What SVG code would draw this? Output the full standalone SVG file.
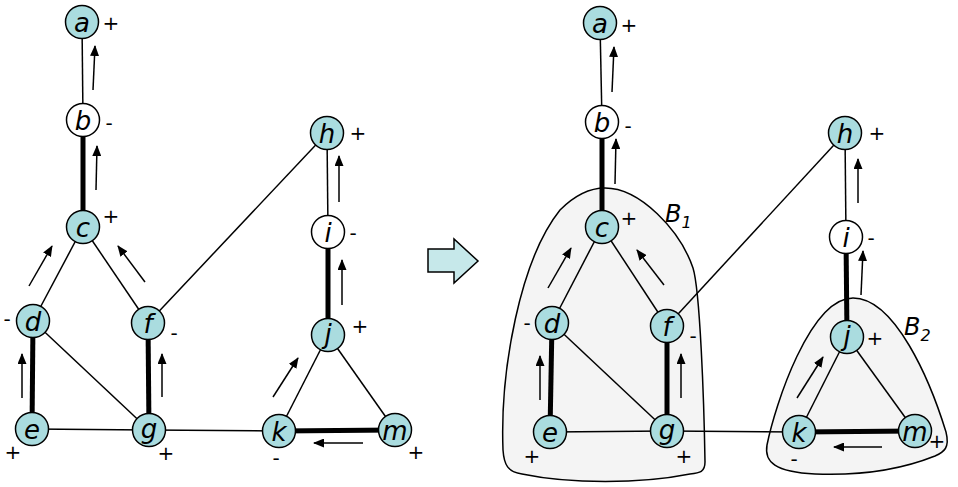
<svg xmlns="http://www.w3.org/2000/svg" width="958" height="487" viewBox="0 0 958 487">
<style>
.bg{fill:#ffffff}
.blob{fill:#f4f4f4;stroke:#000;stroke-width:1.5}
.e{stroke:#000;stroke-width:1.5;fill:none}
.t{stroke:#000;stroke-width:5;fill:none}
.ar{stroke:#000;stroke-width:1.5;fill:none;marker-end:url(#ah)}
.n{fill:#aadcdf;stroke:#000;stroke-width:1.5}
.w{fill:#ffffff;stroke:#000;stroke-width:1.5}
.nl{font-family:"DejaVu Sans",Verdana,sans-serif;font-style:italic;font-size:26px;text-anchor:middle;fill:#000}
.s{font-family:"DejaVu Sans",Verdana,sans-serif;font-size:20px;text-anchor:middle;fill:#000}
.bl{font-family:"DejaVu Sans",Verdana,sans-serif;font-style:italic;font-size:24px;fill:#000}
.sub{font-family:"DejaVu Sans",Verdana,sans-serif;font-size:16px;fill:#000}
</style>
<defs>
<marker id="ah" viewBox="0 0 11 9" refX="10" refY="4.5" markerWidth="11" markerHeight="9" markerUnits="userSpaceOnUse" orient="auto">
<path d="M0,0 L11,4.5 L0,9 Z" fill="#000"/>
</marker>
</defs>
<rect class="bg" x="0" y="0" width="958" height="487"/>

<g id="blobs">
<path id="B1" class="blob" d="M605,188 C640,188 680,230 693,268 C700,290 704,400 705,462 C705,472 700,473 690,474 C640,484 570,484 522,474 C508,472 504,465 503,450 C500,370 520,260 560,210 C575,195 590,188 605,188 Z"/>
<path id="B2" class="blob" d="M853,298 C895,298 930,380 946,432 C950,448 944,452 935,456 C905,468 865,476 815,474 C775,472 764,462 767,445 C775,405 810,298 853,298 Z"/>
</g>

<g id="connectors">
<!-- left graph -->
<line class="e" x1="82" y1="22" x2="83" y2="120"/>
<line class="t" x1="83" y1="120" x2="83" y2="227"/>
<line class="e" x1="83" y1="227" x2="33" y2="321"/>
<line class="e" x1="83" y1="227" x2="148" y2="323"/>
<line class="t" x1="33" y1="321" x2="32" y2="429"/>
<line class="e" x1="33" y1="321" x2="149" y2="430"/>
<line class="t" x1="148" y1="323" x2="149" y2="430"/>
<line class="e" x1="32" y1="429" x2="149" y2="430"/>
<line class="e" x1="149" y1="430" x2="279" y2="431"/>
<line class="e" x1="148" y1="323" x2="327" y2="133"/>
<line class="e" x1="327" y1="133" x2="328" y2="232"/>
<line class="t" x1="328" y1="232" x2="328" y2="335"/>
<line class="e" x1="328" y1="335" x2="279" y2="431"/>
<line class="e" x1="328" y1="335" x2="395" y2="430"/>
<line class="t" x1="279" y1="431" x2="395" y2="430"/>
<!-- right graph -->
<line class="e" x1="600" y1="23" x2="602" y2="122"/>
<line class="t" x1="602" y1="122" x2="602" y2="227"/>
<line class="e" x1="602" y1="227" x2="552" y2="323"/>
<line class="e" x1="602" y1="227" x2="667" y2="326"/>
<line class="t" x1="552" y1="323" x2="550" y2="432"/>
<line class="e" x1="552" y1="323" x2="667" y2="431"/>
<line class="t" x1="667" y1="326" x2="667" y2="431"/>
<line class="e" x1="550" y1="432" x2="667" y2="431"/>
<line class="e" x1="667" y1="431" x2="799" y2="432"/>
<line class="e" x1="667" y1="326" x2="845" y2="133"/>
<line class="e" x1="845" y1="133" x2="846" y2="237"/>
<line class="t" x1="846" y1="237" x2="847" y2="337"/>
<line class="e" x1="847" y1="337" x2="799" y2="432"/>
<line class="e" x1="847" y1="337" x2="915" y2="431"/>
<line class="t" x1="799" y1="432" x2="915" y2="431"/>
</g>

<g id="flow-arrows">
<line class="ar" x1="93" y1="90" x2="95" y2="46"/>
<line class="ar" x1="96" y1="190" x2="97" y2="146"/>
<line class="ar" x1="29" y1="286" x2="52" y2="246"/>
<line class="ar" x1="145" y1="282" x2="118" y2="246"/>
<line class="ar" x1="22" y1="398" x2="22" y2="354"/>
<line class="ar" x1="162" y1="397" x2="162" y2="354"/>
<line class="ar" x1="339" y1="202" x2="339" y2="156"/>
<line class="ar" x1="342" y1="305" x2="342" y2="260"/>
<line class="ar" x1="273" y1="397" x2="298" y2="358"/>
<line class="ar" x1="363" y1="443" x2="314" y2="443"/>

<line class="ar" x1="612" y1="92" x2="614" y2="47"/>
<line class="ar" x1="615" y1="184" x2="616" y2="139"/>
<line class="ar" x1="548" y1="288" x2="571" y2="248"/>
<line class="ar" x1="664" y1="285" x2="637" y2="250"/>
<line class="ar" x1="540" y1="400" x2="540" y2="356"/>
<line class="ar" x1="681" y1="398" x2="681" y2="354"/>
<line class="ar" x1="858" y1="203" x2="858" y2="159"/>
<line class="ar" x1="861" y1="295" x2="863" y2="251"/>
<line class="ar" x1="797" y1="398" x2="823" y2="357"/>
<line class="ar" x1="882" y1="447" x2="834" y2="447"/>
</g>

<g id="big-arrow">
<polygon points="428,249 454,249 454,239 478,261 454,283 454,272 428,272" fill="#c6e8ea" stroke="#000" stroke-width="1.5"/>
</g>

<!-- left nodes -->
<g id="L-a"><circle class="n" cx="82" cy="22" r="16.5"/><text class="nl" x="82" y="32">a</text><text class="s" x="111" y="30">+</text></g>
<g id="L-b"><circle class="w" cx="83" cy="120" r="16.5"/><text class="nl" x="83" y="130">b</text><text class="s" x="109" y="130">-</text></g>
<g id="L-c"><circle class="n" cx="83" cy="227" r="16.5"/><text class="nl" x="83" y="237">c</text><text class="s" x="111" y="223">+</text></g>
<g id="L-d"><circle class="n" cx="33" cy="321" r="16.5"/><text class="nl" x="33" y="331">d</text><text class="s" x="7" y="326">-</text></g>
<g id="L-f"><circle class="n" cx="148" cy="323" r="16.5"/><text class="nl" x="148" y="333">f</text><text class="s" x="174" y="340">-</text></g>
<g id="L-e"><circle class="n" cx="32" cy="429" r="16.5"/><text class="nl" x="32" y="439">e</text><text class="s" x="13" y="459">+</text></g>
<g id="L-g"><circle class="n" cx="149" cy="430" r="16.5"/><text class="nl" x="149" y="438">g</text><text class="s" x="166" y="460">+</text></g>
<g id="L-h"><circle class="n" cx="327" cy="133" r="16.5"/><text class="nl" x="327" y="143">h</text><text class="s" x="358" y="140">+</text></g>
<g id="L-i"><circle class="w" cx="328" cy="232" r="16.5"/><text class="nl" x="328" y="242">i</text><text class="s" x="353" y="240">-</text></g>
<g id="L-j"><circle class="n" cx="328" cy="335" r="16.5"/><text class="nl" x="328" y="343">j</text><text class="s" x="360" y="333">+</text></g>
<g id="L-k"><circle class="n" cx="279" cy="431" r="16.5"/><text class="nl" x="279" y="441">k</text><text class="s" x="276" y="465">-</text></g>
<g id="L-m"><circle class="n" cx="395" cy="430" r="16.5"/><text class="nl" x="395" y="440">m</text><text class="s" x="416" y="459">+</text></g>

<!-- right nodes -->
<g id="R-a"><circle class="n" cx="600" cy="23" r="16.5"/><text class="nl" x="600" y="33">a</text><text class="s" x="629" y="32">+</text></g>
<g id="R-b"><circle class="w" cx="602" cy="122" r="16.5"/><text class="nl" x="602" y="132">b</text><text class="s" x="628" y="133">-</text></g>
<g id="R-c"><circle class="n" cx="602" cy="227" r="16.5"/><text class="nl" x="602" y="237">c</text><text class="s" x="629" y="225">+</text></g>
<g id="R-d"><circle class="n" cx="552" cy="323" r="16.5"/><text class="nl" x="552" y="333">d</text><text class="s" x="527" y="330">-</text></g>
<g id="R-f"><circle class="n" cx="667" cy="326" r="16.5"/><text class="nl" x="667" y="336">f</text><text class="s" x="693" y="343">-</text></g>
<g id="R-e"><circle class="n" cx="550" cy="432" r="16.5"/><text class="nl" x="550" y="442">e</text><text class="s" x="532" y="463">+</text></g>
<g id="R-g"><circle class="n" cx="667" cy="431" r="16.5"/><text class="nl" x="667" y="439">g</text><text class="s" x="684" y="463">+</text></g>
<g id="R-h"><circle class="n" cx="845" cy="133" r="16.5"/><text class="nl" x="845" y="143">h</text><text class="s" x="877" y="140">+</text></g>
<g id="R-i"><circle class="w" cx="846" cy="237" r="16.5"/><text class="nl" x="846" y="247">i</text><text class="s" x="871" y="245">-</text></g>
<g id="R-j"><circle class="n" cx="847" cy="337" r="16.5"/><text class="nl" x="847" y="345">j</text><text class="s" x="875" y="345">+</text></g>
<g id="R-k"><circle class="n" cx="799" cy="432" r="16.5"/><text class="nl" x="799" y="442">k</text><text class="s" x="794" y="466">-</text></g>
<g id="R-m"><circle class="n" cx="915" cy="431" r="16.5"/><text class="nl" x="915" y="441">m</text><text class="s" x="937" y="448">+</text></g>

<g id="blob-labels">
<text class="bl" x="665" y="222">B<tspan class="sub" dy="6">1</tspan></text>
<text class="bl" x="904" y="335">B<tspan class="sub" dy="6">2</tspan></text>
</g>
</svg>
